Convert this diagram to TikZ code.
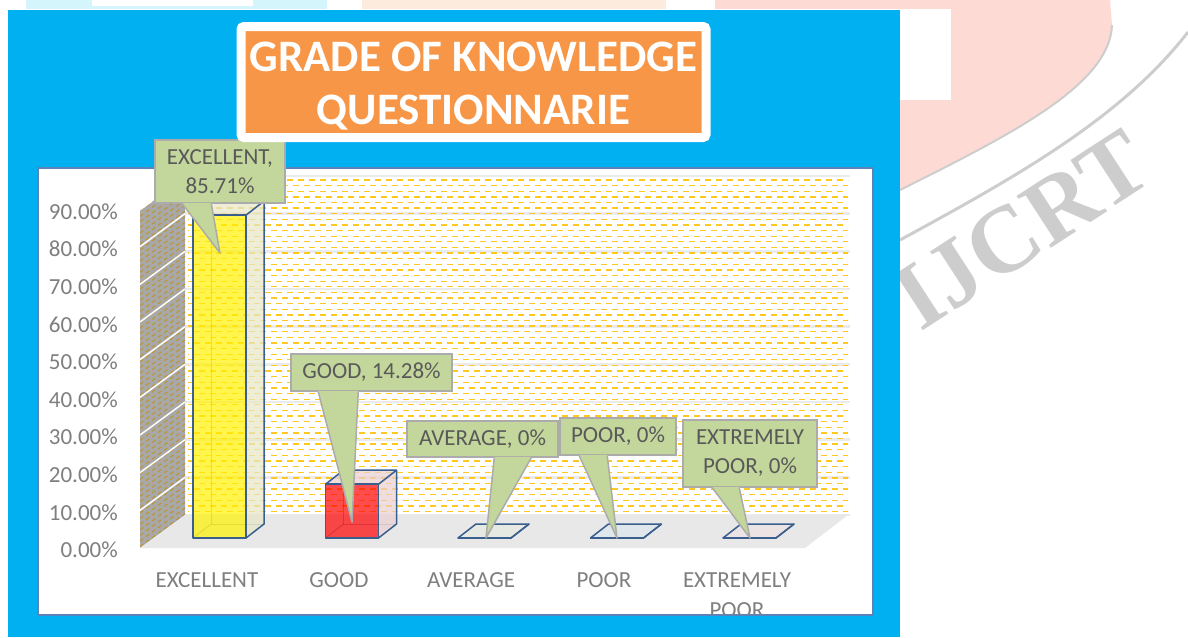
\documentclass[tikz,border=0pt]{standalone}
\usepackage{fontspec}
\setmainfont{Carlito}
\newfontfamily\wmfont{Liberation Serif}
\usetikzlibrary{shadows,positioning}
\definecolor{panelblue}{HTML}{00B0F0}
\definecolor{plotedge}{HTML}{5B82BA}
\definecolor{titleorange}{HTML}{F79646}
\definecolor{callgreen}{HTML}{C3D69B}
\definecolor{callline}{HTML}{ABABAB}
\definecolor{labelgray}{HTML}{595959}
\definecolor{axisgray}{HTML}{7F7F7F}
\definecolor{barblue}{HTML}{3A5F8F}
\definecolor{patyellow}{HTML}{FFC820}
\definecolor{wallgray}{HTML}{A8A8A8}
\definecolor{hatchbrown}{HTML}{BC9430}
\definecolor{floorgray}{HTML}{E8E8E8}
\definecolor{gridgray}{HTML}{EBEBEB}
\definecolor{sideyellow}{HTML}{E6E6C8}
\definecolor{sidered}{HTML}{EBCFCF}
\definecolor{zeroavg}{HTML}{E4EAE0}
\definecolor{zeropoor}{HTML}{DCE6EE}
\definecolor{zeroext}{HTML}{EEE2E4}
\definecolor{wmpink}{HTML}{FDDAD3}
\definecolor{wmpeach}{HTML}{FDEBDD}
\definecolor{wmcyan}{HTML}{D5F5FC}
\definecolor{wmgray}{HTML}{CDCDCD}
\tikzset{
  callout/.style={fill=callgreen, draw=callline, line width=1.5pt, text=labelgray,
    font=\fontsize{23}{29}\selectfont, align=center, inner sep=0pt},
  catlabel/.style={text=axisgray, font=\fontsize{23}{30}\selectfont, align=center, inner sep=0pt},
  ylabel/.style={text=axisgray, font=\fontsize{23}{27}\selectfont, anchor=east, inner sep=0pt},
  barline/.style={draw=barblue, line width=1.5pt, line join=round},
  titlebox/.style={fill=titleorange, draw=white, line width=9pt, rounded corners=3pt,
    minimum width=465pt, minimum height=111pt, inner sep=0pt,
    drop shadow={shadow xshift=2pt, shadow yshift=-2pt, opacity=.25}},
  titletext/.style={text=white, font=\fontsize{45}{53}\selectfont\bfseries, align=center, inner sep=0pt},
  wmtext/.style={text=wmgray, font=\wmfont\bfseries\fontsize{95}{95}\selectfont, inner sep=0pt}
}
\begin{document}
\begin{tikzpicture}[x=1pt,y=-1pt]
\useasboundingbox (0,0) rectangle (1188,637);

% watermark of the page
\fill[wmcyan] (26,0) rectangle (327,9);
\fill[white] (92,0) rectangle (253,6);
\fill[wmpeach] (362,0) rectangle (666,9);
\fill[wmpink] (715,0) rectangle (900,9);
\fill[wmpink] (900,0) -- (1110,0) -- (1112,25) .. controls (1110,85) and (1010,135) .. (900,190) -- cycle;
\fill[white] (900,9) rectangle (951,100);
\draw[wmgray, line width=2pt] (1112,25) .. controls (1110,85) and (1010,135) .. (900,190);
\draw[wmgray, line width=3pt] (1188,32) .. controls (1120,120) and (1010,180) .. (900,240);
\node[wmtext, rotate=33] (wm) at (1022,230) {IJCRT};

% chart panel
\fill[panelblue] (8,10) rectangle (900,637);
\draw[plotedge, line width=1.5pt, fill=white] (38,168) rectangle (873,615);

% back wall
\foreach \k in {0,...,9}
  \draw[gridgray, line width=2.5pt] (185,515-37.67*\k) -- (850,515-37.67*\k);
\foreach \k in {0,...,59}{
  \pgfmathsetmacro\ph{mod(\k,2)*5.5}
  \draw[patyellow, line width=1.3pt, dash pattern=on 6pt off 5pt, dash phase=\ph pt]
    (188,180+5.62*\k) -- (848,180+5.62*\k);
}

% side wall
\fill[wallgray] (140,548) -- (140,211) -- (185,178) -- (185,515) -- cycle;
\begin{scope}
  \clip (140,548) -- (140,211) -- (185,178) -- (185,515) -- cycle;
  \foreach \k in {0,...,70}
    \draw[hatchbrown, line width=1pt, dash pattern=on 4pt off 3.5pt] (140,205+5.6*\k) -- (185,172+5.6*\k);
  \foreach \k in {1,...,9}
    \draw[white, line width=1.5pt] (140,548-37.67*\k) -- (185,515-37.67*\k);
\end{scope}

% floor
\fill[floorgray] (140,548) -- (185,515) -- (848,515) -- (805,548) -- cycle;

% value axis
\foreach \k in {0,...,9}{
  \pgfmathtruncatemacro\val{10*\k}
  \node[ylabel] (ylab\k) at (118,550-37.6*\k) {\val.00\%};
}

% bars
\foreach \i/\v/\fc/\sc in {0/85.71/yellow/sideyellow, 1/14.28/red/sidered,
    2/0/zeroavg/zeroavg, 3/0/zeropoor/zeropoor, 4/0/zeroext/zeroext}{
  \pgfmathsetmacro\xa{193+132.5*\i}
  \pgfmathsetmacro\xb{\xa+53}
  \pgfmathsetmacro\yt{538-3.767*\v}
  \draw[barblue, opacity=.45, line width=1pt] (\xa+18,\yt-14) -- (\xa+18,524) -- (\xb+18,524);
  \draw[barblue, opacity=.45, line width=1pt] (\xa,538) -- (\xa+18,524);
  \fill[\sc, opacity=.7] (\xb,538) -- (\xb+18,524) -- (\xb+18,\yt-14) -- (\xb,\yt) -- cycle;
  \fill[\sc, opacity=.7] (\xa,\yt) -- (\xa+18,\yt-14) -- (\xb+18,\yt-14) -- (\xb,\yt) -- cycle;
  \fill[\fc, opacity=.7] (\xa,\yt) rectangle (\xb,538);
  \draw[barline] (\xa,\yt) rectangle (\xb,538);
  \draw[barline] (\xb,538) -- (\xb+18,524) -- (\xb+18,\yt-14) -- (\xa+18,\yt-14) -- (\xa,\yt);
  \draw[barline] (\xb,\yt) -- (\xb+18,\yt-14);
}

% categories
\begin{scope}
  \clip (38,168) rectangle (873,614);
  \node[catlabel] (cexc) at (207,580) {EXCELLENT};
  \node[catlabel] (cgood) at (339,580) {GOOD};
  \node[catlabel] (cavg) at (471,580) {AVERAGE};
  \node[catlabel] (cpoor) at (604,580) {POOR};
  \node[catlabel] (cext) at (737,595) {EXTREMELY\\POOR};
\end{scope}

% data labels
\coordinate (tipexc) at (220,253);
\coordinate (tipgood) at (352,522);
\coordinate (tipavg) at (486,538);
\coordinate (tippoor) at (617,538);
\coordinate (tipext) at (750,538);
\node[callout, minimum width=130pt, minimum height=63pt] (exc) at (220,171.5) {EXCELLENT,\\85.71\%};
\node[callout, minimum width=161pt, minimum height=37pt] (good) at (371.5,372.5) {GOOD, 14.28\%};
\node[callout, minimum width=151pt, minimum height=36pt] (avg) at (482.5,439) {AVERAGE, 0\%};
\node[callout, minimum width=116pt, minimum height=37pt] (poor) at (618,436.5) {POOR, 0\%};
\node[callout, minimum width=134pt, minimum height=67pt] (ext) at (750,453.5) {EXTREMELY\\POOR, 0\%};
\foreach \lbl/\a/\b in {exc/28/57, good/28/68, avg/88/125, poor/20/48, ext/30/57}{
  \fill[callgreen] ([xshift=\a pt, yshift=1pt]\lbl.south west) -- (tip\lbl)
    -- ([xshift=\b pt, yshift=1pt]\lbl.south west) -- cycle;
  \draw[callline, line width=1.5pt, line join=round] ([xshift=\a pt]\lbl.south west) -- (tip\lbl)
    -- ([xshift=\b pt]\lbl.south west);
}

% title
\node[titlebox] (title) at (473.5,82) {};
\node[titletext] (titletxt) at ([yshift=-4pt]title.center) {GRADE OF KNOWLEDGE\\QUESTIONNARIE};

\end{tikzpicture}
\end{document}
